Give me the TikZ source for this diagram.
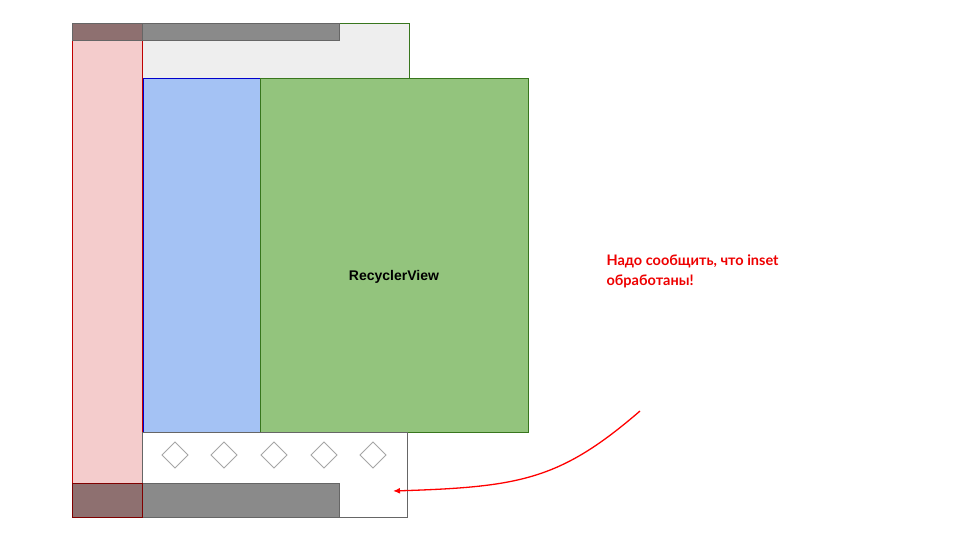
\documentclass[tikz,border=0pt]{standalone}
\usepackage{fontspec}
\setmainfont{Liberation Sans}
\newfontfamily\lato{Lato}
\usetikzlibrary{arrows.meta}
\definecolor{pinkf}{HTML}{F4CCCC}
\definecolor{darkc}{HTML}{8E7070}
\definecolor{grayb}{HTML}{8A8A8A}
\definecolor{lightg}{HTML}{EEEEEE}
\definecolor{bluef}{HTML}{A4C2F4}
\definecolor{greenf}{HTML}{93C47D}
\definecolor{greend}{HTML}{38761D}
\definecolor{redt}{HTML}{EE0000}
\begin{document}
\begin{tikzpicture}[x=1pt,y=-1pt,
  dia/.style={draw=black!35, fill=white, line width=0.8pt}]
\useasboundingbox (0,0) rectangle (960,540);
\fill[white] (0,0) rectangle (960,540);
\draw[fill=lightg, draw=greend] (141,23) rectangle (409,78);
\draw[fill=pinkf, draw=red!75!black] (72,23) rectangle (142,517);
\draw[fill=grayb, draw=black!60] (142,23) rectangle (339,40);
\draw[fill=darkc, draw=black!60] (72,23) rectangle (142,40);
\draw[fill=bluef, draw=blue!80!black] (143,78) rectangle (260,432);
\draw[fill=greenf, draw=greend] (260,78) rectangle (528,432);
\node[font=\bfseries\fontsize{14}{16}\selectfont] (rv) at (394,277) {RecyclerView};
\draw[fill=white, draw=black!60] (142,432) rectangle (407,517);
\foreach \x in {175,224,274,324,373}
  \draw[dia] (\x-13,455) -- (\x,442) -- (\x+13,455) -- (\x,468) -- cycle;
\draw[fill=grayb, draw=black!60] (142,483) rectangle (339,517);
\draw[fill=darkc, draw=red!50!black] (72,483) rectangle (142,517);
\node[anchor=west, align=left, text=redt, font=\lato\bfseries\fontsize{14.5}{20}\selectfont] (note) at (603,271) {Надо сообщить, что inset\\обработаны!};
\coordinate (s) at (640,411);
\coordinate (e) at (393,491);
\draw[red, line width=1.3pt, -{Latex[length=7pt,width=6pt]}] (s) .. controls (560,480) and (520,487) .. (e);
\end{tikzpicture}
\end{document}
